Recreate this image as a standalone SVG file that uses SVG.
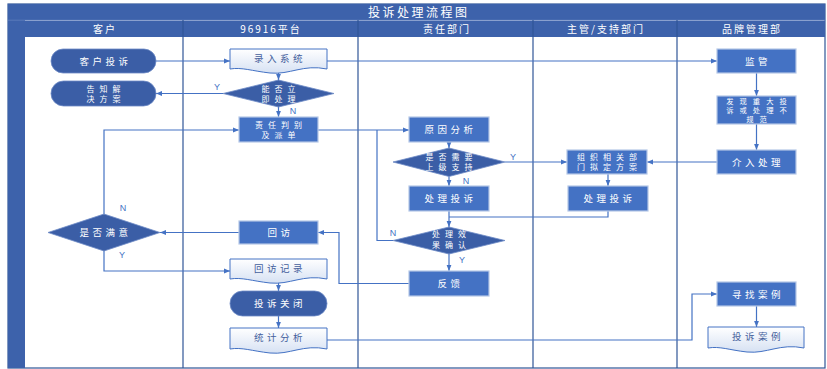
<svg xmlns="http://www.w3.org/2000/svg" width="827" height="369" viewBox="0 0 827 369">
<defs>
<linearGradient id="docg" x1="0" y1="0" x2="0" y2="1">
<stop offset="0" stop-color="#ffffff"/>
<stop offset="1" stop-color="#d6e1f3"/>
</linearGradient>
<marker id="arr" viewBox="0 0 10 10" refX="10" refY="5" markerWidth="6" markerHeight="6" orient="auto" markerUnits="userSpaceOnUse">
<path d="M0,1 L10,5 L0,9 Z" fill="#4472c4"/>
</marker>
<style>
.bar{fill:#3d62ab;}
.div{stroke:#2f5597;stroke-width:1.2;fill:none;}
.hd{font-family:"Noto Sans CJK SC","Liberation Sans",sans-serif;font-size:10px;fill:#ffffff;letter-spacing:2px;text-anchor:middle;}
.tt{font-family:"Noto Sans CJK SC","Liberation Sans",sans-serif;font-size:12px;fill:#ffffff;letter-spacing:2.5px;}
.dark{fill:#3b5ea6;stroke:#6f8cc6;stroke-width:0.8;}
.box{fill:#4472c4;stroke:#b4c7e7;stroke-width:1.2;}
.doc{fill:url(#docg);stroke:#4472c4;stroke-width:1;}
.wt{font-family:"Noto Sans CJK SC","Liberation Sans",sans-serif;font-size:9.5px;fill:#ffffff;letter-spacing:3.5px;text-anchor:middle;}
.wm{font-family:"Noto Sans CJK SC","Liberation Sans",sans-serif;font-size:8px;fill:#ffffff;letter-spacing:5px;text-anchor:middle;}
.w3{font-family:"Noto Sans CJK SC","Liberation Sans",sans-serif;font-size:7.3px;fill:#ffffff;letter-spacing:6px;text-anchor:middle;}
.bt{font-family:"Noto Sans CJK SC","Liberation Sans",sans-serif;font-size:9.5px;fill:#44609c;letter-spacing:3.5px;text-anchor:middle;}
.cn{stroke:#4472c4;stroke-width:1.2;fill:none;marker-end:url(#arr);}
.ln{stroke:#4472c4;stroke-width:1.2;fill:none;}
.lb{font-family:"Liberation Sans",sans-serif;font-size:9px;fill:#4472c4;text-anchor:middle;}
</style>
</defs>
<rect x="0" y="0" width="827" height="369" fill="#ffffff"/>
<g id="frame">
<rect x="8" y="4" width="817" height="364" fill="#ffffff" stroke="#2f5597" stroke-width="1.2"/>
<rect class="bar" x="8" y="4" width="817" height="16"/>
<rect class="bar" x="8" y="20" width="17" height="348"/>
<rect class="bar" x="25" y="20.5" width="800" height="16.5"/>
<line x1="8" y1="20.2" x2="825" y2="20.2" stroke="#6f8cc6" stroke-width="0.6"/>
<text class="tt" x="368" y="16.5">投诉处理流程图</text>
<line class="div" x1="183" y1="20" x2="183" y2="368"/>
<line class="div" x1="358" y1="20" x2="358" y2="368"/>
<line class="div" x1="533" y1="20" x2="533" y2="368"/>
<line class="div" x1="677" y1="20" x2="677" y2="368"/>
<text class="hd" x="105" y="32.5">客户</text>
<text class="hd" x="271" y="32.5">96916平台</text>
<text class="hd" x="447" y="32.5">责任部门</text>
<text class="hd" x="606" y="32.5">主管/支持部门</text>
<text class="hd" x="752" y="32.5">品牌管理部</text>
</g>
<g id="connectors">
<line class="cn" x1="156" y1="61" x2="230" y2="61"/>
<line class="cn" x1="327" y1="61" x2="717" y2="61"/>
<line class="cn" x1="278.5" y1="71" x2="278.5" y2="80"/>
<line class="cn" x1="223" y1="93.5" x2="156" y2="93.5"/>
<line class="cn" x1="278.5" y1="107" x2="278.5" y2="117"/>
<line class="cn" x1="318" y1="130" x2="409" y2="130"/>
<polyline class="cn" points="104,214 104,130 239,130"/>
<polyline class="cn" points="104,250 104,271 230,271"/>
<line class="cn" x1="239" y1="232.5" x2="160" y2="232.5"/>
<polyline class="cn" points="409,283.5 339,283.5 339,232.5 318,232.5"/>
<line class="cn" x1="278.5" y1="280" x2="278.5" y2="291"/>
<line class="cn" x1="278.5" y1="316" x2="278.5" y2="328"/>
<polyline class="cn" points="327,340 692,340 692,294 717,294"/>
<line class="cn" x1="756.5" y1="306" x2="756.5" y2="327"/>
<line class="cn" x1="756.5" y1="73" x2="756.5" y2="96"/>
<line class="cn" x1="756.5" y1="124" x2="756.5" y2="150"/>
<line class="cn" x1="717" y1="162" x2="647" y2="162"/>
<line class="cn" x1="449" y1="142" x2="449" y2="148"/>
<line class="cn" x1="505" y1="162" x2="567" y2="162"/>
<line class="cn" x1="449" y1="176.5" x2="449" y2="186"/>
<line class="cn" x1="608" y1="174" x2="608" y2="186"/>
<line class="cn" x1="449" y1="211" x2="449" y2="227"/>
<polyline class="ln" points="608,211 608,217 449,217"/>
<polyline class="ln" points="393,240.5 377,240.5 377,130"/>
<line class="cn" x1="449" y1="254" x2="449" y2="271"/>
<text class="lb" x="217" y="90">Y</text>
<text class="lb" x="293" y="114">N</text>
<text class="lb" x="123" y="211">N</text>
<text class="lb" x="122" y="258">Y</text>
<text class="lb" x="513" y="160">Y</text>
<text class="lb" x="466" y="184">N</text>
<text class="lb" x="393" y="236">N</text>
<text class="lb" x="462" y="263">Y</text>
</g>
<g id="n1"><rect class="dark" x="51" y="49" width="105" height="24" rx="12"/><text class="wt" x="105.5" y="64.5">客户投诉</text></g>
<g id="n2"><rect class="dark" x="51" y="81" width="105" height="25" rx="12.5"/><text class="wm" x="106" y="91.5">告知解</text><text class="wm" x="106" y="101.5">决方案</text></g>
<g id="n3"><path class="doc" d="M230,49 H327 V69 C303,64 290,75 270,73 C252,71 242,67 230,69 Z"/><text class="bt" x="280" y="61.5">录入系统</text></g>
<g id="n4"><polygon class="dark" points="278.5,80 334,93.5 278.5,107 223,93.5"/><text class="wm" x="281" y="91.8">能否立</text><text class="wm" x="281" y="101.8">即处理</text></g>
<g id="n5"><rect class="box" x="239" y="117" width="79" height="25"/><text class="wm" x="281" y="128">责任判别</text><text class="wm" x="281" y="138">及派单</text></g>
<g id="n6"><rect class="box" x="239" y="221" width="79" height="23"/><text class="wt" x="280.5" y="236">回访</text></g>
<g id="n7"><polygon class="dark" points="104,214 160,232.5 104,251 48,232.5"/><text class="wt" x="105.5" y="236">是否满意</text></g>
<g id="n8"><path class="doc" d="M230,259 H327 V279 C303,274 290,285 270,283 C252,281 242,277 230,279 Z"/><text class="bt" x="280" y="271.5">回访记录</text></g>
<g id="n9"><rect class="dark" x="230" y="291" width="97" height="25" rx="12.5"/><text class="wt" x="280" y="307">投诉关闭</text></g>
<g id="n10"><path class="doc" d="M230,328 H327 V349 C303,344 290,355 270,353 C252,351 242,347 230,349 Z"/><text class="bt" x="280" y="340.5">统计分析</text></g>
<g id="n11"><rect class="box" x="409" y="117" width="80" height="25"/><text class="wt" x="450.5" y="133">原因分析</text></g>
<g id="n12"><polygon class="dark" points="449,148 505,162 449,176.5 393,162"/><text class="wm" x="451.5" y="159.5">是否需要</text><text class="wm" x="451.5" y="169.5">上级支持</text></g>
<g id="n13"><rect class="box" x="409" y="186" width="80" height="25"/><text class="wt" x="450.5" y="202">处理投诉</text></g>
<g id="n14"><polygon class="dark" points="449,227 505,240.5 449,254 393,240.5"/><text class="wm" x="451.5" y="237">处理效</text><text class="wm" x="451.5" y="247.5">果确认</text></g>
<g id="n15"><rect class="box" x="409" y="271" width="80" height="25"/><text class="wt" x="450.5" y="287">反馈</text></g>
<g id="n16"><rect class="box" x="567" y="150" width="80" height="24"/><text class="wm" x="609.5" y="160">组织相关部</text><text class="wm" x="609.5" y="170">门拟定方案</text></g>
<g id="n17"><rect class="box" x="568" y="186" width="80" height="25"/><text class="wt" x="609.5" y="202">处理投诉</text></g>
<g id="n18"><rect class="box" x="717" y="49" width="79" height="24"/><text class="wt" x="758" y="64.5">监管</text></g>
<g id="n19"><rect class="box" x="717" y="96" width="79" height="28"/><text class="w3" x="759.5" y="103.5">发现重大投</text><text class="w3" x="759.5" y="112.5">诉或处理不</text><text class="w3" x="759.5" y="121.5">规范</text></g>
<g id="n20"><rect class="box" x="717" y="150" width="79" height="24"/><text class="wt" x="758" y="165.5">介入处理</text></g>
<g id="n21"><rect class="box" x="717" y="282" width="79" height="24"/><text class="wt" x="758" y="297.5">寻找案例</text></g>
<g id="n22"><path class="doc" d="M708,327 H804 V348 C780,343 767,354 747,352 C729,350 720,346 708,348 Z"/><text class="bt" x="758" y="339.5">投诉案例</text></g>
</svg>
